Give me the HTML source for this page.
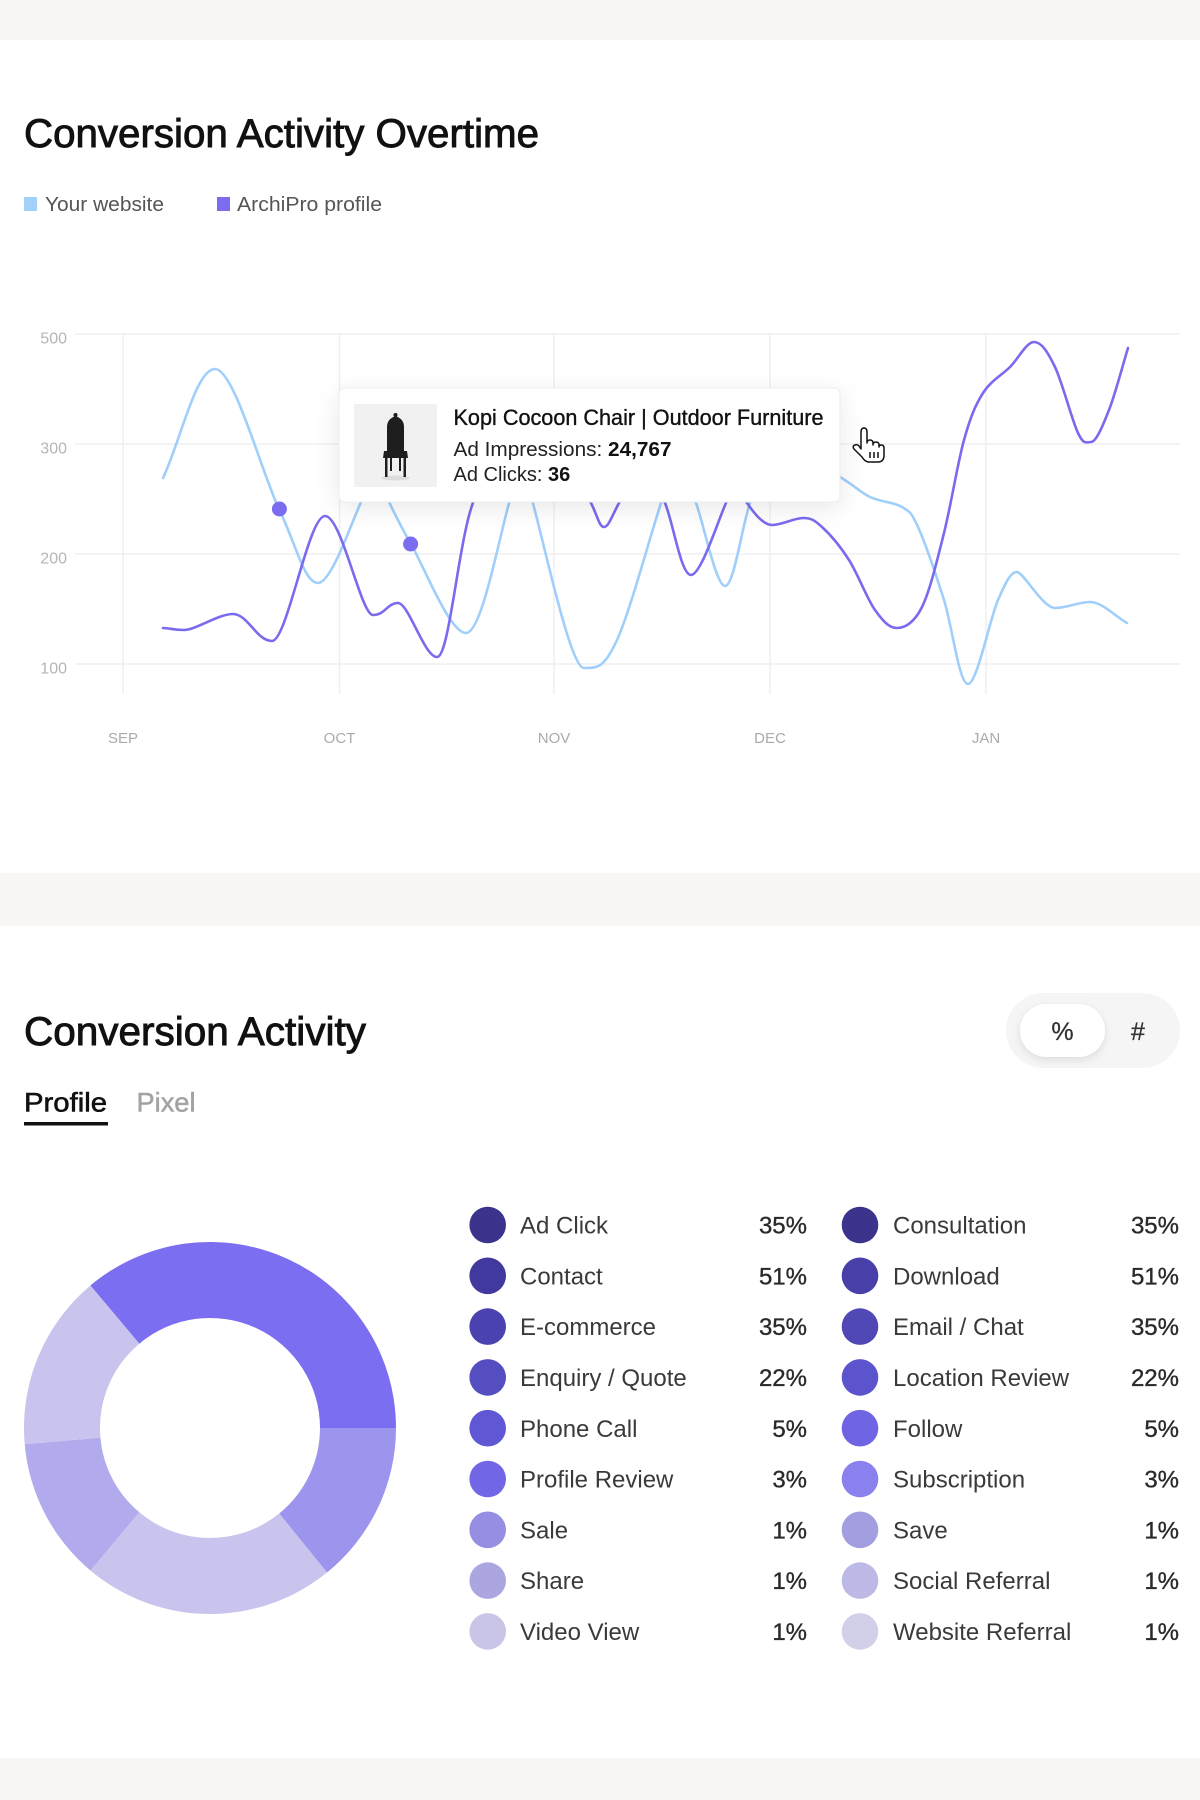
<!DOCTYPE html>
<html>
<head>
<meta charset="utf-8">
<style>
  html, body { margin: 0; padding: 0; }
  body { width: 1200px; height: 1800px; background: #f8f7f5; overflow: hidden; }
  svg { display: block; }
</style>
</head>
<body>
<svg width="1200" height="1800" viewBox="0 0 1200 1800" xmlns="http://www.w3.org/2000/svg" font-family="'Liberation Sans', Arial, sans-serif">
  <defs>
    <filter id="tsh" x="-20%" y="-40%" width="140%" height="200%">
      <feDropShadow dx="0" dy="6" stdDeviation="12" flood-color="#000" flood-opacity="0.09"/>
    </filter>
    <filter id="psh" x="-30%" y="-40%" width="160%" height="200%">
      <feDropShadow dx="0" dy="3" stdDeviation="4" flood-color="#000" flood-opacity="0.10"/>
    </filter>
  </defs>

  <!-- background bands -->
  <rect x="0" y="0" width="1200" height="1800" fill="#f8f7f5"/>
  <rect x="0" y="40" width="1200" height="833" fill="#ffffff"/>
  <rect x="0" y="926" width="1200" height="832" fill="#ffffff"/>

  <!-- ===== Section 1 ===== -->
  <text x="24" y="147" font-size="40" fill="#111" stroke="#111" stroke-width="0.9" textLength="515" lengthAdjust="spacingAndGlyphs">Conversion Activity Overtime</text>

  <rect x="24" y="197" width="13" height="14" fill="#a3d0f8"/>
  <text x="45" y="211" font-size="20" fill="#555" textLength="119" lengthAdjust="spacingAndGlyphs">Your website</text>
  <rect x="217" y="197" width="13" height="14" fill="#7b6cf0"/>
  <text x="237" y="211" font-size="20" fill="#555" textLength="145" lengthAdjust="spacingAndGlyphs">ArchiPro profile</text>

  <!-- grid -->
  <g stroke="#efefef" stroke-width="1.5">
    <line x1="75" y1="334" x2="1180" y2="334"/>
    <line x1="75" y1="444" x2="1180" y2="444"/>
    <line x1="75" y1="554" x2="1180" y2="554"/>
    <line x1="75" y1="664" x2="1180" y2="664"/>
    <line x1="123" y1="334" x2="123" y2="694"/>
    <line x1="339.5" y1="334" x2="339.5" y2="694"/>
    <line x1="554" y1="334" x2="554" y2="694"/>
    <line x1="770" y1="334" x2="770" y2="694"/>
    <line x1="986" y1="334" x2="986" y2="694"/>
  </g>
  <g font-size="16" fill="#b5b5b5" text-anchor="end">
    <text x="67" y="343.5">500</text>
    <text x="67" y="453.5">300</text>
    <text x="67" y="563.5">200</text>
    <text x="67" y="673.5">100</text>
  </g>
  <g font-size="15" fill="#aaaaaa" text-anchor="middle">
    <text x="123" y="743">SEP</text>
    <text x="339.5" y="743">OCT</text>
    <text x="554" y="743">NOV</text>
    <text x="770" y="743">DEC</text>
    <text x="986" y="743">JAN</text>
  </g>

  <!-- series: Your website -->
  <path fill="none" stroke="#9fcffa" stroke-width="2.6" stroke-linecap="round"
    d="M163 478 C180.3 441.7 195.7 369 215 369 C234.3 369 261.8 473.3 279 509 C296.2 544.7 304.2 583 318 583 C331.8 583 352.7 518.8 362 500 C371.3 481.2 369.7 470 374 470 C378.3 470 381.8 487.7 388 500 C394.2 512.3 398 521.8 411 544 C424 566.2 449.5 633 466 633 C482.5 633 500.7 528.8 510 500 C519.3 471.2 518.3 458 522 458 C525.7 458 525 470 532 500 C542.3 534.7 569.8 668 584 668 C598.2 668 604 668 617 640 C630 612 651.8 530 662 500 C672.2 470 672.3 460 678 460 C683.7 460 688.2 482 696 503 C703.8 524 716 586 725 586 C734 586 741.7 527.3 750 503 C758.3 478.7 764.3 440 775 440 C785.7 440 824.2 467.5 840 477 C855.8 486.5 859.7 492 870 497 C880.3 502 894 502 902 507 C910 512 911 511.5 918 527 C925 542.5 935.7 573.8 944 600 C952.3 626.2 959 684 968 684 C977 684 989.8 618.7 998 600 C1006.2 581.3 1010.7 572 1017 572 C1023.3 572 1042.8 608 1055 608 C1067.2 608 1078 602 1090 602 C1102 602 1114.7 616 1127 623"/>

  <!-- series: ArchiPro profile -->
  <path fill="none" stroke="#7a6bee" stroke-width="2.6" stroke-linecap="round"
    d="M163 628 C170 628 172.3 630 184 630 C195.7 630 218.3 614 233 614 C247.7 614 256.7 641 272 641 C287.3 641 308.2 516 325 516 C341.8 516 360.8 615 373 615 C385.2 615 387.3 603 398 603 C408.7 603 424.3 657 437 657 C449.7 657 458.5 537.8 474 500 C489.5 462.2 510.5 430 530 430 C549.5 430 578.7 486.8 591 503 C597.7 516.3 599.3 527 604 527 C608.7 527 612.7 514.2 619 503 C625.3 491.8 634.3 460 642 460 C649.7 460 656.8 483.8 665 503 C673.2 522.2 680.8 575 691 575 C701.2 575 718.3 519.7 726 503 C733.7 486.3 733.5 475 737 475 C740.5 475 741.2 494.7 747 503 C752.8 511.3 762.7 525 772 525 C781.3 525 794.7 518 803 518 C811.3 518 814.3 520 822 527 C829.7 534 840.2 546.2 849 560 C857.8 573.8 867 598.7 875 610 C883 621.3 889.2 628 897 628 C904.8 628 914.2 622.8 922 607 C929.8 591.2 937 560.8 944 533 C951 505.2 957.5 463.3 964 440 C970.5 416.7 975.3 405.2 983 393 C990.7 380.8 1001.5 375.5 1010 367 C1018.5 358.5 1026.5 342 1034 342 C1041.5 342 1047.7 351.8 1055 367 C1062.3 382.2 1072 420.5 1078 433 C1084 445.5 1085.8 442 1091 442 C1096.2 442 1102.8 425.7 1109 410 C1115.2 394.3 1121.7 368.7 1128 348"/>

  <!-- dots -->
  <circle cx="279.4" cy="509" r="7.5" fill="#7b6cf0"/>
  <circle cx="410.6" cy="544" r="7.5" fill="#7b6cf0"/>

  <!-- tooltip -->
  <rect x="339" y="388" width="501" height="114" rx="6" fill="#ffffff" stroke="#eeeeee" stroke-width="1" filter="url(#tsh)"/>
  <rect x="354" y="404" width="83" height="83" fill="#f1f1f1"/>
  <!-- chair -->
  <g fill="#1e1e1e">
    <ellipse cx="395.5" cy="478" rx="14" ry="2.5" fill="#dcdcdc"/>
    <path d="M387 452 L387 427 Q387 419 395.5 416 Q404 419 404 427 L404 452 Z"/>
    <rect x="393.5" y="413" width="4" height="4" rx="2"/>
    <path d="M384 451 L407 451 L408 458 L383 458 Z"/>
    <rect x="385" y="457" width="2.5" height="20"/>
    <rect x="403.5" y="457" width="2.5" height="20"/>
    <rect x="390" y="457" width="2" height="14"/>
    <rect x="399" y="457" width="2" height="14"/>
  </g>
  <text x="453.5" y="425" font-size="22" fill="#111" stroke="#111" stroke-width="0.35" textLength="370" lengthAdjust="spacingAndGlyphs">Kopi Cocoon Chair | Outdoor Furniture</text>
  <text x="453.5" y="456" font-size="20" fill="#222" textLength="218" lengthAdjust="spacingAndGlyphs">Ad Impressions: <tspan font-weight="700" fill="#111">24,767</tspan></text>
  <text x="453.5" y="481" font-size="20" fill="#222">Ad Clicks: <tspan font-weight="700" fill="#111">36</tspan></text>

  <!-- hand cursor -->
  <g transform="translate(851,428)" stroke="#111" stroke-width="1.5" fill="#fff" stroke-linejoin="round">
    <path d="M10 4 Q10 0 13 0 Q16 0 16 4 L16 15 Q16 12 19 12 Q22 12 22 15 L22 17 Q22 14 25 14 Q28 14 28 17 L28 19 Q28 17 30.5 17 Q33 17 33 20 L33 27 Q33 34 27 34 L18 34 Q14 34 11 29 L3 21 Q1 18 4 17 Q6 16 8 18 L10 21 Z"/>
    <line x1="19" y1="24" x2="19" y2="30"/>
    <line x1="23" y1="24" x2="23" y2="30"/>
    <line x1="27" y1="24" x2="27" y2="30"/>
  </g>

  <!-- ===== Section 2 ===== -->
  <text x="24" y="1045" font-size="40" fill="#111" stroke="#111" stroke-width="0.9" textLength="342" lengthAdjust="spacingAndGlyphs">Conversion Activity</text>

  <text x="24" y="1111.5" font-size="27" fill="#111" stroke="#111" stroke-width="0.6" textLength="83" lengthAdjust="spacingAndGlyphs">Profile</text>
  <text x="136.5" y="1111.5" font-size="27" fill="#a3a3a3" stroke="#a3a3a3" stroke-width="0.5" textLength="59" lengthAdjust="spacingAndGlyphs">Pixel</text>
  <rect x="24" y="1122" width="84" height="3.5" fill="#111"/>

  <!-- toggle -->
  <rect x="1006" y="993" width="174" height="75" rx="37.5" fill="#f5f5f6"/>
  <rect x="1020" y="1004" width="85" height="53" rx="26.5" fill="#ffffff" filter="url(#psh)"/>
  <text x="1062.5" y="1040" font-size="25" fill="#333" stroke="#333" stroke-width="0.3" text-anchor="middle">%</text>
  <text x="1138" y="1040" font-size="25" fill="#333" stroke="#333" stroke-width="0.3" text-anchor="middle">#</text>

  <!-- donut -->
  <path d="M90.4 1285.5 A186 186 0 0 1 396 1428 L320 1428 A110 110 0 0 0 139.3 1343.7 Z" fill="#7b6ef0"/>
  <path d="M396 1428 A186 186 0 0 1 327 1572.5 L279.2 1513.5 A110 110 0 0 0 320 1428 Z" fill="#9d94ee"/>
  <path d="M327 1572.5 A186 186 0 0 1 90.4 1570.5 L139.3 1512.3 A110 110 0 0 0 279.2 1513.5 Z" fill="#c9c4ee"/>
  <path d="M90.4 1570.5 A186 186 0 0 1 24.7 1444.2 L100.4 1437.6 A110 110 0 0 0 139.3 1512.3 Z" fill="#b1aaec"/>
  <path d="M24.7 1444.2 A186 186 0 0 1 90.4 1285.5 L139.3 1343.7 A110 110 0 0 0 100.4 1437.6 Z" fill="#c9c4ee"/>

  <!-- legend left -->
  <g>
    <circle cx="487.7" cy="1225" r="18.3" fill="#3b338c"/>
    <circle cx="487.7" cy="1275.8" r="18.3" fill="#41399d"/>
    <circle cx="487.7" cy="1326.6" r="18.3" fill="#4a42ae"/>
    <circle cx="487.7" cy="1377.4" r="18.3" fill="#554ec0"/>
    <circle cx="487.7" cy="1428.2" r="18.3" fill="#5f57d3"/>
    <circle cx="487.7" cy="1479" r="18.3" fill="#7166e6"/>
    <circle cx="487.7" cy="1529.8" r="18.3" fill="#958ee2"/>
    <circle cx="487.7" cy="1580.6" r="18.3" fill="#aba6e0"/>
    <circle cx="487.7" cy="1631.4" r="18.3" fill="#c8c5e6"/>
  </g>
  <g font-size="24" fill="#3a3a3a">
    <text x="520" y="1233.6">Ad Click</text>
    <text x="520" y="1284.4">Contact</text>
    <text x="520" y="1335.2">E-commerce</text>
    <text x="520" y="1386">Enquiry / Quote</text>
    <text x="520" y="1436.8">Phone Call</text>
    <text x="520" y="1487.6">Profile Review</text>
    <text x="520" y="1538.4">Sale</text>
    <text x="520" y="1589.2">Share</text>
    <text x="520" y="1640">Video View</text>
  </g>
  <g font-size="24" fill="#2a2a2a" stroke="#2a2a2a" stroke-width="0.35" text-anchor="end">
    <text x="807" y="1233.6">35%</text>
    <text x="807" y="1284.4">51%</text>
    <text x="807" y="1335.2">35%</text>
    <text x="807" y="1386">22%</text>
    <text x="807" y="1436.8">5%</text>
    <text x="807" y="1487.6">3%</text>
    <text x="807" y="1538.4">1%</text>
    <text x="807" y="1589.2">1%</text>
    <text x="807" y="1640">1%</text>
  </g>

  <!-- legend right -->
  <g>
    <circle cx="860" cy="1225" r="18.3" fill="#3b338c"/>
    <circle cx="860" cy="1275.8" r="18.3" fill="#4840a8"/>
    <circle cx="860" cy="1326.6" r="18.3" fill="#5048b5"/>
    <circle cx="860" cy="1377.4" r="18.3" fill="#5c54cc"/>
    <circle cx="860" cy="1428.2" r="18.3" fill="#6f64e3"/>
    <circle cx="860" cy="1479" r="18.3" fill="#8a80ee"/>
    <circle cx="860" cy="1529.8" r="18.3" fill="#a39ee0"/>
    <circle cx="860" cy="1580.6" r="18.3" fill="#bdb9e6"/>
    <circle cx="860" cy="1631.4" r="18.3" fill="#d2d0e8"/>
  </g>
  <g font-size="24" fill="#3a3a3a">
    <text x="893" y="1233.6">Consultation</text>
    <text x="893" y="1284.4">Download</text>
    <text x="893" y="1335.2">Email / Chat</text>
    <text x="893" y="1386">Location Review</text>
    <text x="893" y="1436.8">Follow</text>
    <text x="893" y="1487.6">Subscription</text>
    <text x="893" y="1538.4">Save</text>
    <text x="893" y="1589.2">Social Referral</text>
    <text x="893" y="1640">Website Referral</text>
  </g>
  <g font-size="24" fill="#2a2a2a" stroke="#2a2a2a" stroke-width="0.35" text-anchor="end">
    <text x="1179" y="1233.6">35%</text>
    <text x="1179" y="1284.4">51%</text>
    <text x="1179" y="1335.2">35%</text>
    <text x="1179" y="1386">22%</text>
    <text x="1179" y="1436.8">5%</text>
    <text x="1179" y="1487.6">3%</text>
    <text x="1179" y="1538.4">1%</text>
    <text x="1179" y="1589.2">1%</text>
    <text x="1179" y="1640">1%</text>
  </g>
</svg>
</body>
</html>
